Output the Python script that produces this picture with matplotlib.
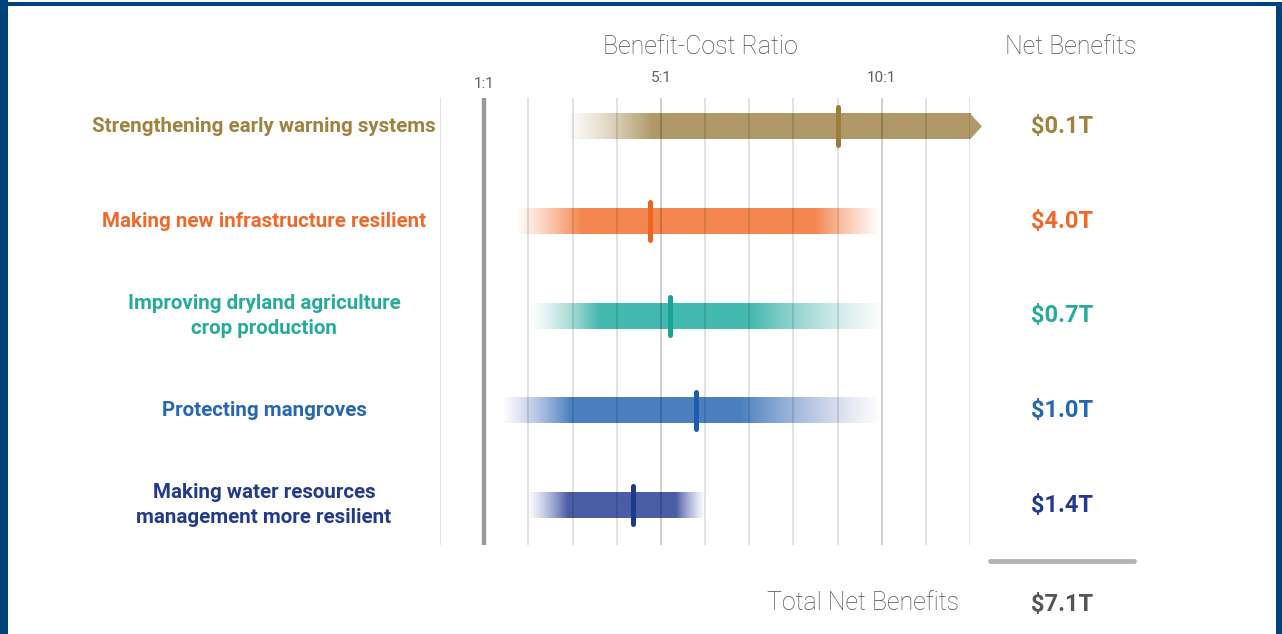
import numpy as np
import matplotlib
matplotlib.use("Agg")
import matplotlib.pyplot as plt
import matplotlib.transforms as mtransforms
from matplotlib.patches import Rectangle, Polygon
from matplotlib.colors import to_rgb

plt.rcParams['font.family'] = ['Roboto', 'DejaVu Sans']

# ---------------- data ----------------
categories = ["Strengthening early warning systems",
              "Making new infrastructure resilient",
              "Improving dryland agriculture\ncrop production",
              "Protecting mangroves",
              "Making water resources\nmanagement more resilient"]
bcr_low = [2.85, 1.72, 2.05, 1.42, 2.0]
bcr_solid_low = [4.8, 3.2, 3.6, 2.95, 2.9]
bcr_solid_high = [12.0, 8.5, 7.0, 6.8, 5.35]
bcr_high = [12.0, 9.95, 10.0, 9.95, 6.0]
bcr_mid = [9.0, 4.75, 5.2, 5.8, 4.37]
open_ended = [True, False, False, False, False]
net_benefits = [0.1, 4.0, 0.7, 1.0, 1.4]
total_net = 7.1
tick_vals = [1, 5, 10]
tick_labels = ["1:1", "5:1", "10:1"]

bar_colors = ["#b09868", "#f4874f", "#43b8ae", "#4a80c0", "#4a5ea6"]
edge_colors = ["#d8cbb0", "#f7b08a", "#9fd4cf", "#a3aad8", "#9ea6d6"]
mark_colors = ["#9c7d3a", "#ec6424", "#17a494", "#1f5caf", "#1e3a8e"]
text_colors = ["#a0823f", "#f0692a", "#26ab9c", "#2767b1", "#223a8a"]

W, H = 1282, 634
fig = plt.figure(figsize=(W / 100, H / 100), dpi=100)
fig.patch.set_facecolor("white")

# frame
blue = "#00437b"
fig.add_artist(Rectangle((0, 0), 8 / W, 1, transform=fig.transFigure, color=blue, lw=0))
fig.add_artist(Rectangle((0, 1 - 6 / H), 1, 4 / H, transform=fig.transFigure, color=blue, lw=0))
fig.add_artist(Rectangle((1 - 6 / W, 0), 6 / W, 1 - 2 / H, transform=fig.transFigure, color=blue, lw=0))

# axes: x 0..12 maps to px 440..970 ; y from px 98..545
x0, x1 = 440, 970
ytop, ybot = 98, 545
ax = fig.add_axes([x0 / W, 1 - ybot / H, (x1 - x0) / W, (ybot - ytop) / H])
ax.set_xlim(0, 12)
ax.set_ylim(4.42, -0.30)
ax.axis("off")

# grid lines
for v in range(0, 13):
    if v == 1:
        continue
    a = 0.24 if v in (5, 10) else 0.15
    ax.axvline(v, color="black", alpha=a, lw=1.1, zorder=5)
ax.axvline(1, color="#9a9a9c", lw=3.2, zorder=5)

hh = 0.137
for i in range(len(categories)):
    lo, slo, shi, hi = bcr_low[i], bcr_solid_low[i], bcr_solid_high[i], bcr_high[i]
    xs = np.linspace(lo, hi, 600)
    a_in = np.clip((xs - lo) / max(slo - lo, 1e-6), 0, 1)
    a_out = np.clip((hi - xs) / max(hi - shi, 1e-6), 0, 1) if hi > shi else np.ones_like(xs)
    alpha = np.minimum(a_in, a_out)
    c_main = np.array(to_rgb(bar_colors[i]))
    c_edge = np.array(to_rgb(edge_colors[i]))
    t = (1 - alpha)[:, None]
    cols = c_main * (1 - t) + c_edge * t
    img = np.zeros((2, len(xs), 4))
    img[:, :, :3] = cols[None, :, :]
    img[:, :, 3] = (alpha ** 0.9)[None, :]
    ax.imshow(img, extent=(lo, hi, i + hh, i - hh), aspect="auto",
              interpolation="bilinear", zorder=3)
    if open_ended[i]:
        ax.add_patch(Polygon([[hi, i - hh], [hi + 0.27, i], [hi, i + hh]],
                             closed=True, color=bar_colors[i], lw=0, zorder=3,
                             clip_on=False))
    ax.plot([bcr_mid[i], bcr_mid[i]], [i - 0.2, i + 0.2], color=mark_colors[i],
            lw=3.6, solid_capstyle="round", zorder=6)

# tick labels
for v, lab in zip(tick_vals, tick_labels):
    yy = 84 if v == 1 else 78
    fig.text(ax.transData.transform((v, 0))[0] / W, 1 - yy / H, lab,
             ha="center", va="center", fontsize=11, color="#606060")

# headers
fig.text(700 / W, 1 - 47 / H, "Benefit-Cost Ratio", ha="center", va="center",
         fontsize=18, color="#4e4e4e", fontweight="light")
fig.text(1071 / W, 1 - 47 / H, "Net Benefits", ha="center", va="center",
         fontsize=18, color="#4e4e4e", fontweight="light")

tr = mtransforms.blended_transform_factory(fig.transFigure, ax.transData)
for i, cat in enumerate(categories):
    ax.text(264 / W, i, cat, transform=tr, ha="center", va="center",
            fontsize=14.8, fontweight="bold", color=text_colors[i],
            linespacing=1.42, clip_on=False)
    ax.text(1062 / W, i, f"${net_benefits[i]:.1f}T", transform=tr, ha="center",
            va="center", fontsize=17, fontweight="bold", color=text_colors[i],
            clip_on=False)

# total
fig.add_artist(plt.Line2D([990 / W, 1134 / W], [1 - 561 / H, 1 - 561 / H],
                          transform=fig.transFigure, color="#b4b4b8", lw=3.5,
                          solid_capstyle="round"))
fig.text(863 / W, 1 - 603 / H, "Total Net Benefits", ha="center", va="center",
         fontsize=18, color="#4e4e4e", fontweight="light")
fig.text(1062 / W, 1 - 604 / H, f"${total_net:.1f}T", ha="center", va="center",
         fontsize=17, fontweight="bold", color="#555555")

fig.savefig("out.png", dpi=100)
